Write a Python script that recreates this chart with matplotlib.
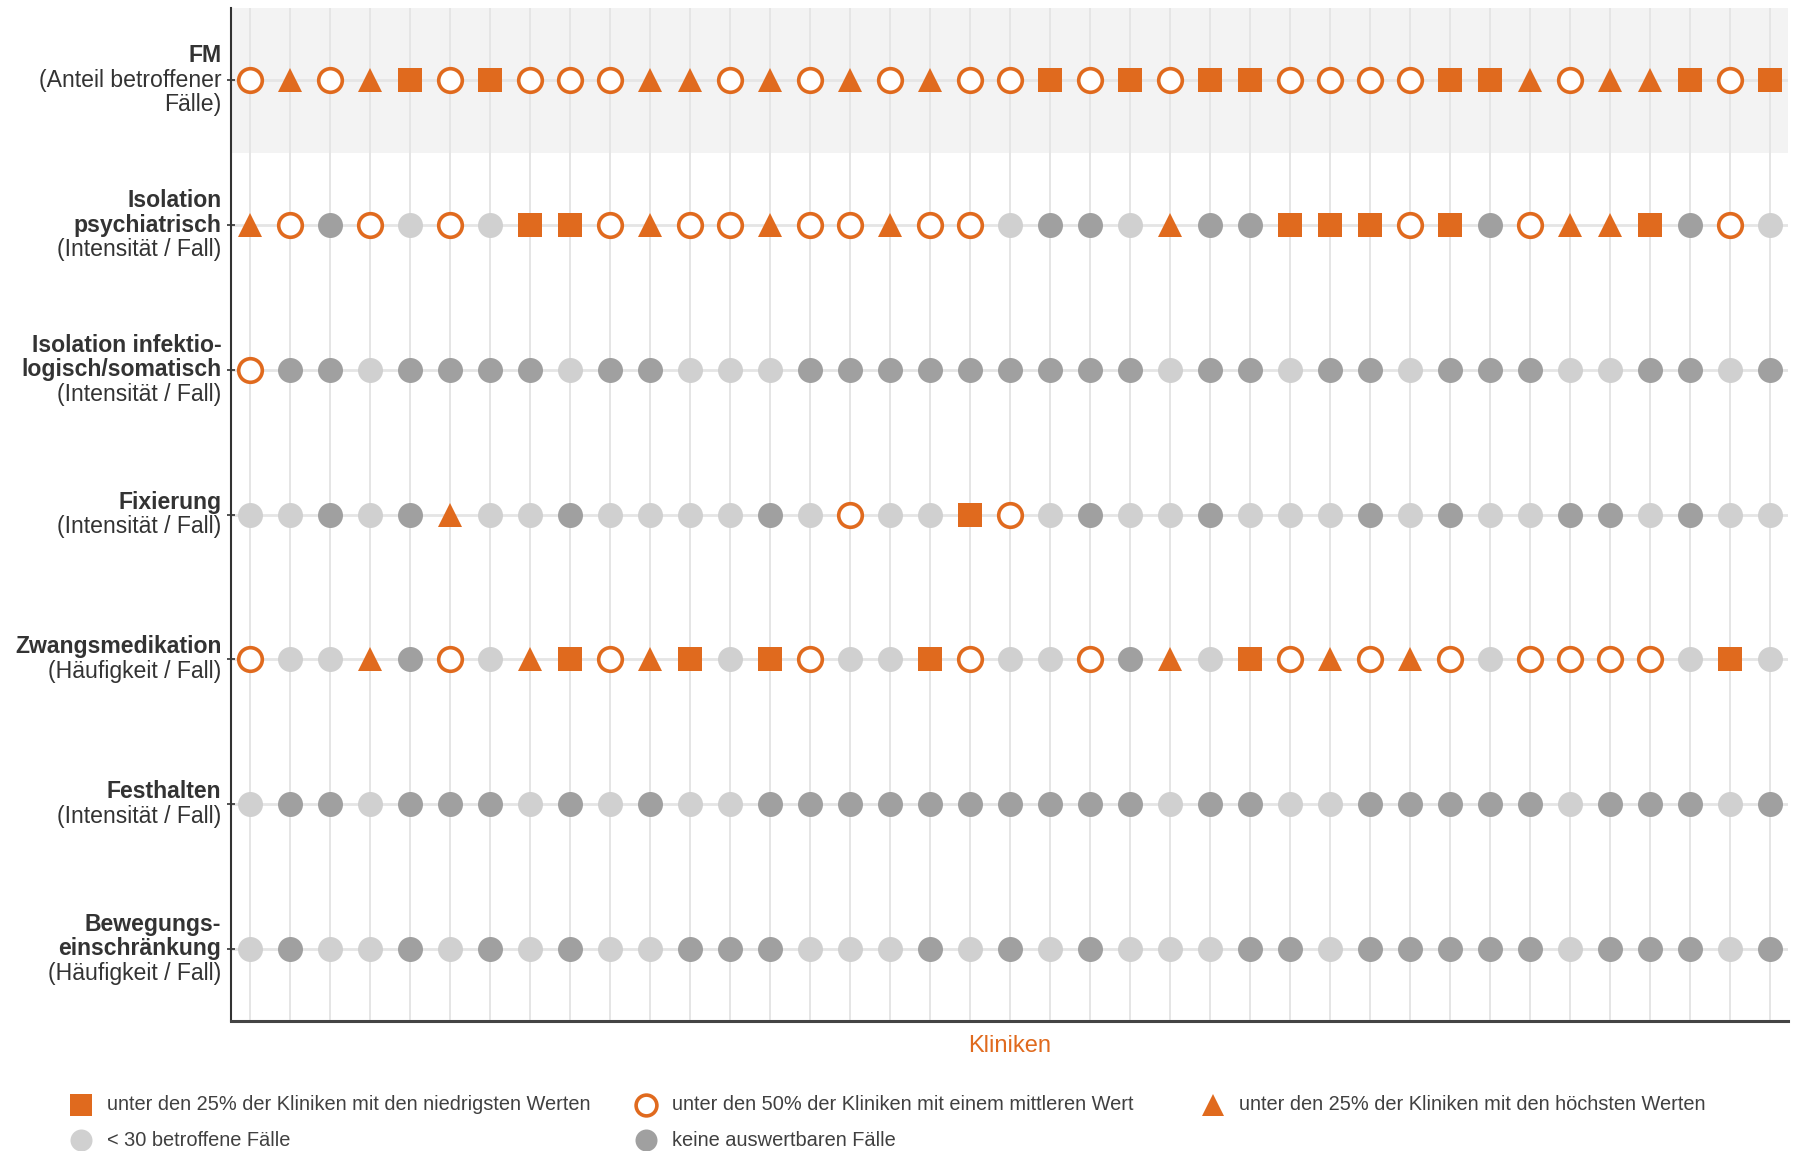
import matplotlib
matplotlib.use("Agg")
import matplotlib.pyplot as plt
from matplotlib.lines import Line2D

plt.rcParams["font.family"] = ["Liberation Sans", "DejaVu Sans"]

ORANGE = "#E06A1E"
LIGHT = "#D0D0D0"
DARK = "#A0A0A0"
TEXT = "#333333"

# ---------- data ----------
# S = unter den 25% mit den niedrigsten Werten, O = mittlere 50%,
# T = unter den 25% mit den höchsten Werten, L = < 30 Fälle, D = keine auswertbaren Fälle
clinics = list(range(1, 40))

row_titles = ["FM", "Isolation\npsychiatrisch", "Isolation infektio-\nlogisch/somatisch",
              "Fixierung", "Zwangsmedikation", "Festhalten", "Bewegungs-\neinschränkung"]
row_units = ["(Anteil betroffener\nFälle)", "(Intensität / Fall)", "(Intensität / Fall)",
             "(Intensität / Fall)", "(Häufigkeit / Fall)", "(Intensität / Fall)",
             "(Häufigkeit / Fall)"]

fm = "O T O T S O S O O O T T O T O T O T O O S O S O S S O O O O S S T O T T S O S".split()
iso_psych = "T O D O L O L S S O T O O T O O T O O L D D L T D D S S S O S D O T T S D O L".split()
iso_inf = "O D D L D D D D L D D L L L D D D D D D D D D L D D L D D L D D D L L D D L D".split()
fixierung = "L L D L D T L L D L L L L D L O L L S O L D L L D L L L D L D L L D D L D L L".split()
zwang = "O L L T D O L T S O T S L S O L L S O L L O D T L S O T O T O L O O O O L S L".split()
festhalten = "L D D L D D D L D L D L L D D D D D D D D D D L D D L L D D D D D L D D D L D".split()
bewegung = "L D L L D L D L D L L D D D L L L D L D L D L L L D D L D D D D D L D D D L D".split()

rows = [fm, iso_psych, iso_inf, fixierung, zwang, festhalten, bewegung]

legend_codes = ["S", "O", "T", "L", "D"]
legend_labels = ["unter den 25% der Kliniken mit den niedrigsten Werten",
                 "unter den 50% der Kliniken mit einem mittleren Wert",
                 "unter den 25% der Kliniken mit den höchsten Werten",
                 "< 30 betroffene Fälle",
                 "keine auswertbaren Fälle"]

# ---------- styles ----------
styles = {
    "S": dict(marker="s", ms=17.5, mfc=ORANGE, mec="none", mew=0),
    "O": dict(marker="o", ms=17.0, mfc="white", mec=ORANGE, mew=2.6),
    "T": dict(marker="^", ms=17.5, mfc=ORANGE, mec="none", mew=0),
    "L": dict(marker="o", ms=18.0, mfc=LIGHT, mec="none", mew=0),
    "D": dict(marker="o", ms=18.0, mfc=DARK, mec="none", mew=0),
}

W, H = 1799, 1151
fig = plt.figure(figsize=(W / 100, H / 100), dpi=100)
ax = fig.add_axes([231 / W, 1 - 1021 / H, (1788 - 231) / W, (1021 - 8) / H])

ax.set_xlim(0.525, 39.45)
ax.set_ylim(len(rows) - 0.5, -0.5)

# FM band
ax.axhspan(-0.5, 0.5, color="#F3F3F3", lw=0, zorder=0)
for x in clinics:
    ax.axvline(x, color="#E5E5E5", lw=1.4, zorder=0.5)
for i in range(len(rows)):
    ax.axhline(i, color="#E5E5E5", lw=2.0, zorder=0.5)

for i, codes in enumerate(rows):
    for code, st in styles.items():
        xs = [c for c, k in zip(clinics, codes) if k == code]
        if xs:
            ax.plot(xs, [i] * len(xs), ls="none", zorder=3, **st)

# axes styling
for s in ("top", "right"):
    ax.spines[s].set_visible(False)
ax.spines["left"].set_color(TEXT)
ax.spines["left"].set_linewidth(1.5)
ax.spines["bottom"].set_color("#444444")
ax.spines["bottom"].set_linewidth(2.2)
ax.set_xticks([])
ax.set_yticks(range(len(rows)))
ax.set_yticklabels([])
ax.tick_params(axis="y", direction="inout", length=6, width=1.2, color=TEXT)

# row labels (bold title + regular unit line)
line_step = 17.6
for i, (title, unit) in enumerate(zip(row_titles, row_units)):
    lines = [(t, "bold") for t in title.split("\n")] + [(u, "normal") for u in unit.split("\n")]
    n = len(lines)
    for k, (txt, fw) in enumerate(lines):
        dy = ((n - 1) / 2 - k) * line_step
        ax.annotate(txt, xy=(0, i), xycoords=ax.get_yaxis_transform(),
                    xytext=(-7, dy), textcoords="offset points",
                    ha="right", va="center", fontsize=16.6, fontweight=fw, color=TEXT)

ax.set_xlabel("Kliniken", color=ORANGE, fontsize=17, labelpad=10)

# legend (fixed-width columns)
leg_pos = [(81, 1105), (646, 1105), (1213, 1105), (81, 1140), (646, 1140)]
for code, label, (px, py) in zip(legend_codes, legend_labels, leg_pos):
    st = dict(styles[code])
    st["ms"] = st["ms"] * 0.88
    fig.add_artist(Line2D([px / W], [1 - py / H], transform=fig.transFigure, ls="none", **st))
    fig.text((px + 26) / W, 1 - py / H, label, ha="left", va="center",
             fontsize=14.4, color="#404040")

fig.savefig("out.png", dpi=100)
